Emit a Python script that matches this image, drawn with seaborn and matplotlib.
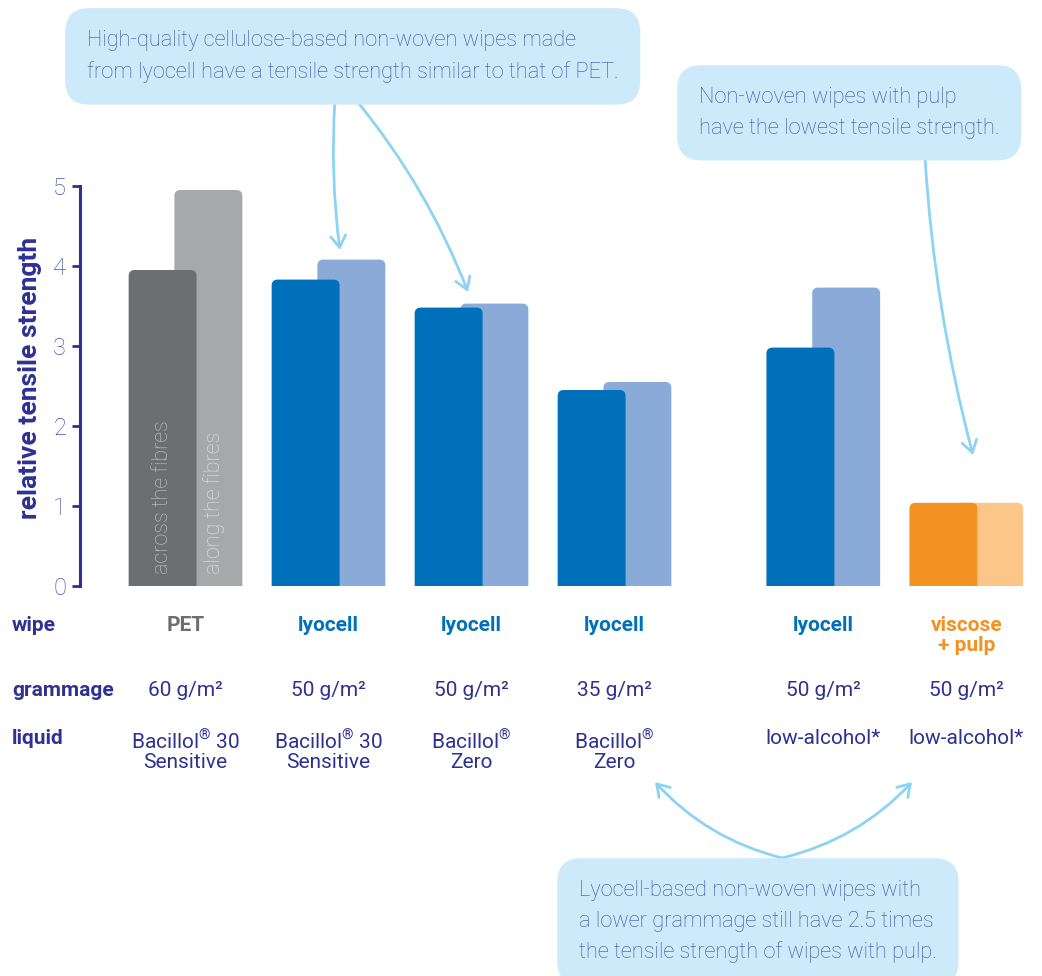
import numpy as np
import pandas as pd
import seaborn as sns
import matplotlib.pyplot as plt
from matplotlib.patches import FancyBboxPatch

# --- data ---
group_pos = [0, 1, 2, 3, 4.46, 5.46]
material = ["PET", "lyocell", "lyocell", "lyocell", "lyocell", "viscose + pulp"]
wipe_labels = ["PET", "lyocell", "lyocell", "lyocell", "lyocell", "viscose\n+ pulp"]
across = [3.95, 3.83, 3.48, 2.45, 2.98, 1.04]
along = [4.95, 4.08, 3.53, 2.55, 3.73, 1.04]
grammage = ["60 g/m²", "50 g/m²", "50 g/m²", "35 g/m²", "50 g/m²", "50 g/m²"]
reg = r"$^{\mathregular{®}}$"
liquid = [f"Bacillol{reg} 30\nSensitive", f"Bacillol{reg} 30\nSensitive", f"Bacillol{reg}\nZero",
          f"Bacillol{reg}\nZero", "low-alcohol*", "low-alcohol*"]

dark_pal = {"PET": "#6d6e71", "lyocell": "#0070ba", "viscose + pulp": "#f39222"}
light_pal = {"PET": "#a7a8aa", "lyocell": "#8aaad8", "viscose + pulp": "#fdc689"}
navy = "#2e3192"
tick_col = "#4452a6"
note_col = "#3d4ea3"
box_col = "#cceaf9"
arrow_col = "#8dd3f3"

sns.set_theme(style="white")
plt.rcParams["font.family"] = ["Roboto", "DejaVu Sans"]
plt.rcParams["mathtext.fontset"] = "custom"
plt.rcParams["mathtext.rm"] = "Roboto"

W, H = 1042, 976
fig = plt.figure(figsize=(W / 100, H / 100), dpi=100)
ax = fig.add_axes([80 / W, 1 - 586 / H, (1030 - 80) / W, (586 - 170) / H])

off = 0.16
light_df = pd.DataFrame({"pos": np.array(group_pos) + off, "val": along, "mat": material})
dark_df = pd.DataFrame({"pos": np.array(group_pos) - off, "val": across, "mat": material})
for df, pal in [(light_df, light_pal), (dark_df, dark_pal)]:
    sns.barplot(data=df, x="pos", y="val", hue="mat", palette=pal, native_scale=True,
                width=0.475, dodge=False, legend=False, saturation=1, errorbar=None, ax=ax)

# round the top corners of the bars
px_x, px_y = 143, 80
for r in list(ax.patches):
    x, y, w, h = r.get_x(), r.get_y(), r.get_width(), r.get_height()
    if h <= 0:
        continue
    fc, z = r.get_facecolor(), r.get_zorder()
    r.remove()
    ax.add_patch(FancyBboxPatch((x, y - 0.3), w, h + 0.3,
                                boxstyle=f"round,pad=0,rounding_size={6 / px_x}",
                                mutation_aspect=px_x / px_y, fc=fc, ec="none", zorder=z))

ax.set_xlim((80 - 185.5) / px_x, (1030 - 185.5) / px_x)
ax.set_ylim(0, (586 - 170) / px_y)
ax.set_yticks([0, 1, 2, 3, 4, 5])
ax.set_xticks([])
ax.set_xlabel("")
ax.set_ylabel("relative tensile strength", fontsize=19, fontweight="bold", color=navy, labelpad=8)
for s in ["top", "right", "bottom"]:
    ax.spines[s].set_visible(False)
ax.spines["left"].set_bounds(0, 5)
ax.spines["left"].set_color(navy)
ax.spines["left"].set_linewidth(2.2)
ax.tick_params(axis="y", left=True, length=6, width=2, color=navy, labelcolor=tick_col,
               labelsize=17, pad=4)
for t in ax.get_yticklabels():
    t.set_fontweight("light")

# labels inside the PET bars
ax.text(group_pos[0] - off, 0.15, "across the fibres", rotation=90, ha="center", va="bottom",
        color="#c9c9cb", fontsize=15.5, fontweight="light")
ax.text(group_pos[0] + 0.2, 0.15, "along the fibres", rotation=90,
        ha="center", va="bottom", color="#e4e4e5", fontsize=15.5, fontweight="light")

# table rows under the chart
tr = ax.get_xaxis_transform()
def ypx(y):
    return (586 - y) / (586 - 170)

rows = [("wipe", 616), ("grammage", 681), ("liquid", 729)]
for name, y in rows:
    fig.text(12 / W, 1 - y / H, name, ha="left", va="top", fontsize=15, fontweight="bold", color=navy)
for i, x in enumerate(group_pos):
    ax.text(x, ypx(616), wipe_labels[i], transform=tr, ha="center", va="top", fontsize=15,
            fontweight="bold", color=dark_pal[material[i]], linespacing=1.05)
    ax.text(x, ypx(681), grammage[i], transform=tr, ha="center", va="top", fontsize=15, color=navy)
    ax.text(x, ypx(729), liquid[i], transform=tr, ha="center", va="top", fontsize=15, color=navy,
            linespacing=1.0)

# callouts
def fp(x, y):
    return (x / W, 1 - y / H)

notes = [
    ((87, 30), "High-quality cellulose-based non-woven wipes made\nfrom lyocell have a tensile strength similar to that of PET."),
    ((699, 87), "Non-woven wipes with pulp\nhave the lowest tensile strength."),
    ((579, 880), "Lyocell-based non-woven wipes with\na lower grammage still have 2.5 times\nthe tensile strength of wipes with pulp."),
]
for (x, y), txt in notes:
    fig.text(*fp(x, y), txt, ha="left", va="top", fontsize=15.7, fontweight="light", color=note_col,
             linespacing=1.6,
             bbox=dict(boxstyle="round,pad=1.0,rounding_size=1.1", fc=box_col, ec="none"))

arrows = [
    ((335, 100), (340, 250), 0.05),
    ((356, 100), (468, 292), -0.08),
    ((925, 157), (973, 455), 0.05),
    ((782, 858), (655, 782), -0.15),
    ((782, 858), (912, 782), 0.15),
]
for start, end, rad in arrows:
    ax.annotate("", xy=fp(*end), xycoords="figure fraction", xytext=fp(*start),
                textcoords="figure fraction", annotation_clip=False,
                arrowprops=dict(arrowstyle="->,head_length=0.7,head_width=0.45", color=arrow_col,
                                lw=2, connectionstyle=f"arc3,rad={rad}", shrinkA=0, shrinkB=0))

fig.savefig("out.png", dpi=100)
